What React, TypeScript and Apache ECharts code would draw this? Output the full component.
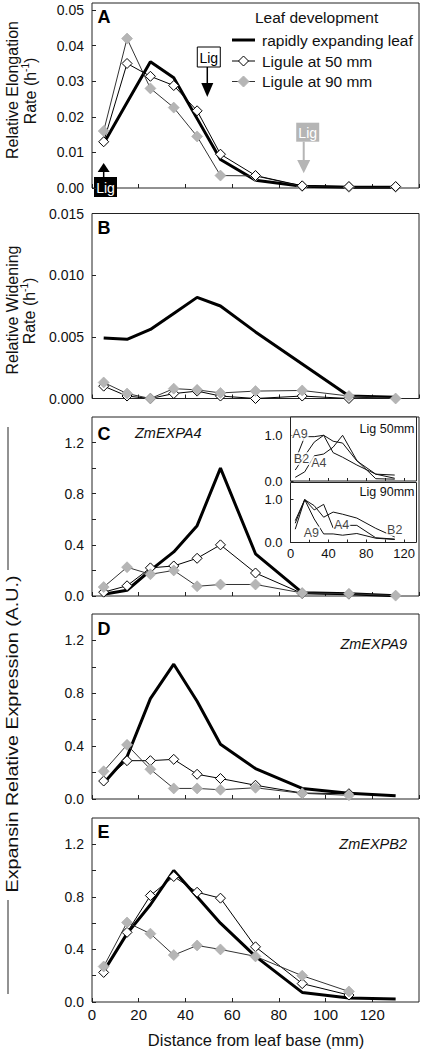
import React, { useEffect, useRef } from "react";
import * as echarts from "echarts";

// ---------- data ----------
const distance = [5, 15, 25, 35, 45, 55, 70, 90, 110, 130];
const insetDistance = [5, 15, 25, 35, 45, 55, 70, 90, 110];
const seriesNames = ["rapidly expanding leaf", "Ligule at 50 mm", "Ligule at 90 mm"];

// A: relative elongation rate (h-1)
const elongationRapid = [0.0125, 0.024, 0.0355, 0.031, 0.0195, 0.008, 0.0022, 0.0005, 0.0002, 0.0002];
const elongation50 = [0.013, 0.035, 0.0314, 0.0288, 0.0217, 0.0095, 0.0035, 0.0006, 0.0004, 0.0004];
const elongation90 = [0.016, 0.042, 0.028, 0.0226, 0.0145, 0.0035, 0.0034, 0.0005, 0.0003, 0.0003];

// B: relative widening rate (h-1)
const wideningRapid = [0.0049, 0.0048, 0.0056, 0.0069, 0.0082, 0.0075, 0.0054, 0.0028, 0.0002, 0.0001];
const widening50 = [0.001, 0.0002, 0.0, 0.0004, 0.0006, 0.0002, 0.0, 0.0002, 0.0, null];
const widening90 = [0.0013, 0.0004, 0.0, 0.0008, 0.0007, 0.00045, 0.0006, 0.00065, 0.0002, 0.0];

// C: ZmEXPA4
const expa4Rapid = [0.013, 0.045, 0.2, 0.345, 0.55, 1.0, 0.33, 0.026, 0.018, 0.002];
const expa4_50 = [0.03, 0.08, 0.22, 0.235, 0.295, 0.4, 0.18, 0.02, 0.015, null];
const expa4_90 = [0.07, 0.225, 0.17, 0.2, 0.076, 0.09, 0.09, 0.024, 0.018, 0.003];

// D: ZmEXPA9
const expa9Rapid = [0.12, 0.32, 0.76, 1.02, 0.74, 0.414, 0.23, 0.08, 0.043, 0.025];
const expa9_50 = [0.136, 0.29, 0.29, 0.3, 0.187, 0.155, 0.104, 0.045, 0.04, null];
const expa9_90 = [0.21, 0.41, 0.225, 0.08, 0.08, 0.07, 0.085, 0.043, 0.028, null];

// E: ZmEXPB2
const expb2Rapid = [0.233, 0.52, 0.74, 1.0, 0.8, 0.6, 0.347, 0.073, 0.03, 0.023];
const expb2_50 = [0.225, 0.53, 0.81, 0.955, 0.835, 0.79, 0.42, 0.14, 0.053, null];
const expb2_90 = [0.27, 0.605, 0.52, 0.357, 0.43, 0.4, 0.347, 0.2, 0.08, null];

// Insets (normalised expression)
const inset50A9 = [0.45, 0.97, 0.97, 1.0, 0.62, 0.52, 0.35, 0.15, 0.13];
const inset50A4 = [0.08, 0.2, 0.55, 0.59, 0.74, 1.0, 0.45, 0.05, 0.04];
const inset50B2 = [0.24, 0.55, 0.85, 1.0, 0.87, 0.83, 0.44, 0.15, 0.06];
const inset90A9 = [0.51, 1.0, 0.55, 0.2, 0.2, 0.17, 0.21, 0.1, 0.07];
const inset90A4 = [0.31, 1.0, 0.76, 0.89, 0.34, 0.4, 0.4, 0.11, 0.08];
const inset90B2 = [0.45, 1.0, 0.86, 0.59, 0.71, 0.66, 0.57, 0.33, 0.13];
const insetLabels50 = [["A9", 10, 1.02], ["B2", 11.6, 0.49], ["A4", 30, 0.4]];
const insetLabels90 = [["A9", 22, 0.22], ["A4", 54, 0.4], ["B2", 110, 0.3]];

const ligulePositions = [5, 50, 90];
const geneNames = ["ZmEXPA4", "ZmEXPA9", "ZmEXPB2"];
const panelLetters = ["A", "B", "C", "D", "E"];

// ---------- layout / style ----------
const FONT = "'Liberation Sans', Arial, Helvetica, sans-serif";
const GRID_LEFT = 92;
const GRID_WIDTH = 327;
const mainGrids = [
  { top: 3, height: 185 },
  { top: 213.5, height: 185 },
  { top: 417, height: 179 },
  { top: 614, height: 185 },
  { top: 818, height: 184 },
];
const insetGrids = [
  { left: 290.5, top: 417, width: 126, height: 64 },
  { left: 290.5, top: 482.5, width: 126, height: 60 },
];

const pairs = (xs: number[], ys: (number | null)[]) => {
  const out: number[][] = [];
  xs.forEach((x, i) => {
    if (ys[i] !== null && ys[i] !== undefined) out.push([x, ys[i] as number]);
  });
  return out;
};

const panels = [
  { rapid: elongationRapid, l50: elongation50, l90: elongation90, grayOnTop: false },
  { rapid: wideningRapid, l50: widening50, l90: widening90, grayOnTop: true },
  { rapid: expa4Rapid, l50: expa4_50, l90: expa4_90, grayOnTop: true },
  { rapid: expa9Rapid, l50: expa9_50, l90: expa9_90, grayOnTop: true },
  { rapid: expb2Rapid, l50: expb2_50, l90: expb2_90, grayOnTop: true },
];

const yAxisDefs = [
  { min: 0, max: 0.052, interval: 0.01, fmt: (v: number) => v.toFixed(2) },
  { min: 0, max: 0.015, interval: 0.005, fmt: (v: number) => v.toFixed(3) },
  { min: 0, max: 1.4, interval: 0.2, fmt: (v: number) => (Math.round(v * 10) % 4 === 0 ? v.toFixed(1) : "") },
  { min: 0, max: 1.4, interval: 0.2, fmt: (v: number) => (Math.round(v * 10) % 4 === 0 ? v.toFixed(1) : "") },
  { min: 0, max: 1.4, interval: 0.2, fmt: (v: number) => (Math.round(v * 10) % 4 === 0 ? v.toFixed(1) : "") },
];

const GRAY = "#b5b5b5";
const tickStyle = { show: true, inside: true, length: 4, lineStyle: { color: "#222", width: 1 } };

function buildOption() {
  const grid: any[] = [];
  const xAxis: any[] = [];
  const yAxis: any[] = [];
  const series: any[] = [];

  mainGrids.forEach((g, i) => {
    grid.push({
      left: GRID_LEFT, top: g.top, width: GRID_WIDTH, height: g.height,
      show: true, borderColor: "#222", borderWidth: 1, backgroundColor: "transparent",
    });
    xAxis.push({
      type: "value", gridIndex: i, min: 0, max: 140, interval: 20,
      axisLine: { show: false }, axisTick: tickStyle, splitLine: { show: false },
      axisLabel: {
        show: i === 4, fontSize: 15, color: "#111", fontFamily: FONT, margin: 5,
        showMaxLabel: false, formatter: (v: number) => String(Math.round(v)),
      },
    });
    const yd = yAxisDefs[i];
    yAxis.push({
      type: "value", gridIndex: i, min: yd.min, max: yd.max, interval: yd.interval,
      axisLine: { show: false }, axisTick: tickStyle, splitLine: { show: false },
      axisLabel: {
        fontSize: 14, color: "#111", fontFamily: FONT, margin: 8,
        showMaxLabel: i === 1, formatter: yd.fmt,
      },
    });
  });

  insetGrids.forEach((g, k) => {
    const gi = 5 + k;
    grid.push({ ...g, show: true, borderColor: "#222", borderWidth: 1, backgroundColor: "#fff" });
    xAxis.push({
      type: "value", gridIndex: gi, min: 0, max: 133, interval: 20,
      axisLine: { show: false }, axisTick: { ...tickStyle, length: 3 }, splitLine: { show: false },
      axisLabel: {
        show: k === 1, fontSize: 13, color: "#111", fontFamily: FONT, margin: 4, showMaxLabel: false,
        formatter: (v: number) => (Math.round(v) % 40 === 0 ? String(Math.round(v)) : ""),
      },
    });
    yAxis.push({
      type: "value", gridIndex: gi, min: 0, max: 1.4, interval: 1,
      axisLine: { show: false }, axisTick: { ...tickStyle, length: 3 }, splitLine: { show: false },
      axisLabel: {
        fontSize: 13, color: "#111", fontFamily: FONT, margin: 8, showMaxLabel: false,
        formatter: (v: number) => (v === 0 || v === 1 ? v.toFixed(1) : ""),
      },
    });
  });

  panels.forEach((p, i) => {
    const rapid = {
      type: "line", name: seriesNames[0], xAxisIndex: i, yAxisIndex: i,
      data: pairs(distance, p.rapid), symbol: "none", showSymbol: false,
      lineStyle: { color: "#000", width: 3 }, itemStyle: { color: "#000" }, silent: true,
    };
    const l50 = {
      type: "line", name: seriesNames[1], xAxisIndex: i, yAxisIndex: i,
      data: pairs(distance, p.l50), symbol: "diamond", symbolSize: 10, showAllSymbol: true,
      itemStyle: { color: "#fff", borderColor: "#000", borderWidth: 1 },
      lineStyle: { color: "#000", width: 1 }, silent: true,
    };
    const l90 = {
      type: "line", name: seriesNames[2], xAxisIndex: i, yAxisIndex: i,
      data: pairs(distance, p.l90), symbol: "diamond", symbolSize: 11, showAllSymbol: true,
      itemStyle: { color: GRAY, borderColor: "#a8a8a8", borderWidth: 0.6 },
      lineStyle: { color: "#333", width: 1 }, silent: true,
    };
    series.push(rapid);
    if (p.grayOnTop) series.push(l50, l90);
    else series.push(l90, l50);
  });

  const insetSets = [
    { gi: 5, lines: [["A9", inset50A9], ["B2", inset50B2], ["A4", inset50A4]], labels: insetLabels50 },
    { gi: 6, lines: [["A9", inset90A9], ["B2", inset90B2], ["A4", inset90A4]], labels: insetLabels90 },
  ];
  insetSets.forEach((s) => {
    s.lines.forEach(([nm, arr]: any) => {
      series.push({
        type: "line", name: "inset " + nm, xAxisIndex: s.gi, yAxisIndex: s.gi,
        data: pairs(insetDistance, arr), symbol: "none", showSymbol: false,
        lineStyle: { color: "#111", width: 1 }, silent: true, z: 3,
      });
    });
    series.push({
      type: "scatter", name: "inset labels", xAxisIndex: s.gi, yAxisIndex: s.gi, z: 6,
      data: s.labels.map((l: any) => [l[1], l[2], l[0]]),
      symbolSize: 1, itemStyle: { color: "rgba(0,0,0,0)" }, silent: true,
      label: {
        show: true, position: "inside", formatter: (q: any) => q.value[2],
        fontSize: 12.5, fontFamily: FONT, color: "#111", backgroundColor: "#fff", padding: [0, 1],
      },
    });
  });

  return { animation: false, backgroundColor: "#fff", grid, xAxis, yAxis, series };
}

function txt(x: number, y: number, text: string, extra: any = {}, elExtra: any = {}) {
  return {
    type: "text", x, y, silent: true, ...elExtra,
    style: { text, fontFamily: FONT, fontSize: 15.5, fill: "#111", align: "left", verticalAlign: "middle", ...extra },
  };
}

function diamond(cx: number, cy: number, r: number, fill: string, stroke: string) {
  return {
    type: "polygon", silent: true,
    shape: { points: [[cx, cy - r], [cx + r, cy], [cx, cy + r], [cx - r, cy]] },
    style: { fill, stroke, lineWidth: 1 },
  };
}

function buildGraphics(ligX: number[]) {
  const g: any[] = [];
  const rot = Math.PI / 2;
  const sup = { sup: { fontSize: 10, fontFamily: FONT, verticalAlign: "top", fill: "#111" } };

  // y axis titles
  g.push(txt(12, 90, "Relative Elongation", { align: "center", fontSize: 16 }, { rotation: rot }));
  g.push(txt(30, 91, "Rate (h{sup|-1})", { align: "center", fontSize: 16, lineHeight: 20, rich: sup }, { rotation: rot }));
  g.push(txt(12, 310, "Relative Widening", { align: "center", fontSize: 16 }, { rotation: rot }));
  g.push(txt(29, 311, "Rate (h{sup|-1})", { align: "center", fontSize: 16, lineHeight: 20, rich: sup }, { rotation: rot }));
  g.push(txt(13, 734, "Expansin Relative Expression (A.U.)", { align: "center", fontSize: 16 }, { rotation: rot, scaleX: 1.23 }));
  g.push({ type: "line", silent: true, shape: { x1: 8, y1: 427, x2: 8, y2: 570 }, style: { stroke: "#6e6e6e", lineWidth: 1.5 } });
  g.push({ type: "line", silent: true, shape: { x1: 8, y1: 900, x2: 8, y2: 994 }, style: { stroke: "#6e6e6e", lineWidth: 1.5 } });

  // x axis title
  g.push(txt(256, 1040, "Distance from leaf base (mm)", { align: "center", fontSize: 16.5 }));

  // panel letters
  const letterY = [17, 227.5, 433.5, 629, 831.5];
  panelLetters.forEach((l, i) => g.push(txt(97.5, letterY[i], l, { fontSize: 18, fontWeight: "bold", fill: "#000" })));

  // gene names
  g.push(txt(135, 432.5, geneNames[0], { fontSize: 14.5, fontStyle: "italic" }));
  g.push(txt(407, 644, geneNames[1], { fontSize: 14.5, fontStyle: "italic", align: "right" }));
  g.push(txt(407, 843.5, geneNames[2], { fontSize: 14.5, fontStyle: "italic", align: "right" }));

  // inset captions
  g.push(txt(414.5, 428.5, "Lig 50mm", { fontSize: 12.5, align: "right" }));
  g.push(txt(414.5, 491.7, "Lig 90mm", { fontSize: 12.5, align: "right" }));

  // legend
  g.push(txt(255, 17, "Leaf development", { fontSize: 15.5 }));
  const rows = [40, 61, 81.5];
  g.push({ type: "line", silent: true, shape: { x1: 232, y1: rows[0], x2: 255, y2: rows[0] }, style: { stroke: "#000", lineWidth: 3 } });
  g.push({ type: "line", silent: true, shape: { x1: 232, y1: rows[1], x2: 255, y2: rows[1] }, style: { stroke: "#000", lineWidth: 1 } });
  g.push(diamond(243.5, rows[1], 5, "#fff", "#000"));
  g.push({ type: "line", silent: true, shape: { x1: 232, y1: rows[2], x2: 255, y2: rows[2] }, style: { stroke: "#333", lineWidth: 1 } });
  g.push(diamond(243.5, rows[2], 5.5, GRAY, GRAY));
  seriesNames.forEach((n, i) => g.push(txt(262, rows[i], n, { fontSize: 15.5 })));

  // ligule markers in panel A
  const [b, w, gr] = ligX;
  // ligule of the rapidly expanding leaf (black, below the axis, arrow up)
  g.push({ type: "line", silent: true, shape: { x1: b, y1: 171, x2: b, y2: 177 }, style: { stroke: "#000", lineWidth: 1.5 } });
  g.push({ type: "polygon", silent: true, shape: { points: [[b, 163], [b - 6, 172], [b + 6, 172]] }, style: { fill: "#000" } });
  g.push({ type: "rect", silent: true, shape: { x: b - 9.7, y: 177, width: 23, height: 20 }, style: { fill: "#000" } });
  g.push(txt(b + 1.8, 187.5, "Lig", { fontSize: 14, fill: "#fff", align: "center" }));
  // ligule at 50 mm (white box, arrow down)
  const wa = w - 1.5;
  g.push({ type: "rect", silent: true, shape: { x: w - 11.5, y: 47, width: 23, height: 20 }, style: { fill: "#fff", stroke: "#000", lineWidth: 1 } });
  g.push(txt(w, 57.5, "Lig", { fontSize: 14, fill: "#000", align: "center" }));
  g.push({ type: "line", silent: true, shape: { x1: wa, y1: 67, x2: wa, y2: 85 }, style: { stroke: "#000", lineWidth: 1.5 } });
  g.push({ type: "polygon", silent: true, shape: { points: [[wa - 6, 83], [wa + 6, 83], [wa, 97]] }, style: { fill: "#000" } });
  // ligule at 90 mm (gray box, arrow down)
  const ga = gr + 1.5;
  g.push({ type: "rect", silent: true, shape: { x: gr - 6, y: 122.7, width: 23, height: 19 }, style: { fill: GRAY } });
  g.push(txt(gr + 5.5, 132.5, "Lig", { fontSize: 14, fill: "#fff", align: "center" }));
  g.push({ type: "line", silent: true, shape: { x1: ga, y1: 141.7, x2: ga, y2: 161 }, style: { stroke: GRAY, lineWidth: 2 } });
  g.push({ type: "polygon", silent: true, shape: { points: [[ga - 6.5, 160], [ga + 6.5, 160], [ga, 173.3]] }, style: { fill: GRAY } });

  return g;
}

export default function App() {
  const ref = useRef<HTMLDivElement>(null);
  useEffect(() => {
    document.body.style.margin = "0";
    const chart = echarts.init(ref.current as HTMLDivElement, null, { renderer: "svg" });
    chart.setOption(buildOption() as any);
    const ligX = ligulePositions.map((v) => chart.convertToPixel({ xAxisIndex: 0 } as any, v) as number);
    chart.setOption({ graphic: buildGraphics(ligX) } as any);
    return () => chart.dispose();
  }, []);
  return <div ref={ref} style={{ width: 423, height: 1050 }} />;
}
